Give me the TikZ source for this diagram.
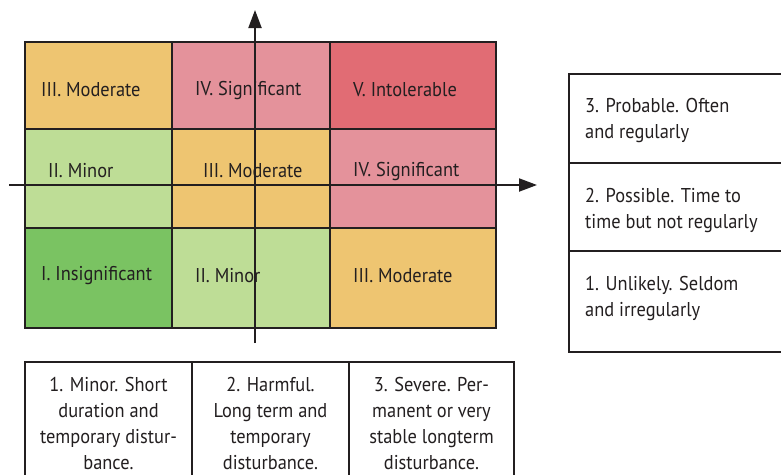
\documentclass[tikz,border=0pt]{standalone}
\usepackage{fontspec}
\setmainfont{PT Sans}[FakeStretch=0.92]
\usetikzlibrary{arrows.meta}
\definecolor{ink}{HTML}{231F20}
\definecolor{modcol}{HTML}{EEC571}
\definecolor{sigcol}{HTML}{E4929B}
\definecolor{intcol}{HTML}{E16C74}
\definecolor{mincol}{HTML}{BEDD96}
\definecolor{inscol}{HTML}{7AC362}
\begin{document}
\begin{tikzpicture}[x=1pt,y=-1pt,
  font=\fontsize{20}{26}\selectfont, text=ink,
  cell/.style={draw=ink, line width=2pt, anchor=north west, inner sep=0pt, outer sep=0pt},
  lbl/.style={anchor=west, inner sep=0pt},
  note/.style={anchor=west, inner sep=0pt, align=left},
  captext/.style={inner sep=0pt, align=center},
  axis/.style={draw=ink, line width=2pt, -{Triangle[length=18pt,width=13pt]}}]
\clip (0,0) rectangle (781,474);
\fill[white] (0,0) rectangle (781,474);

% risk matrix cells (columns: consequence, rows: probability)
\node[cell, fill=modcol, minimum width=147pt, minimum height=87pt] (c13) at (25,42) {};
\node[cell, fill=sigcol, minimum width=158pt, minimum height=87pt] (c23) at (172,42) {};
\node[cell, fill=intcol, minimum width=166pt, minimum height=87pt] (c33) at (330,42) {};
\node[cell, fill=mincol, minimum width=147pt, minimum height=99pt] (c12) at (25,129) {};
\node[cell, fill=modcol, minimum width=158pt, minimum height=99pt] (c22) at (172,129) {};
\node[cell, fill=sigcol, minimum width=166pt, minimum height=99pt] (c32) at (330,129) {};
\node[cell, fill=inscol, minimum width=147pt, minimum height=100pt] (c11) at (25,228) {};
\node[cell, fill=mincol, minimum width=158pt, minimum height=100pt] (c21) at (172,228) {};
\node[cell, fill=modcol, minimum width=166pt, minimum height=100pt] (c31) at (330,228) {};

% cell labels
\node[lbl] (t13) at (41,90) {III. Moderate};
\node[lbl] (t23) at (195,90) {IV. Significant};
\node[lbl] (t33) at (353,90) {V. Intolerable};
\node[lbl] (t12) at (48,171) {II. Minor};
\node[lbl] (t22) at (203,171) {III. Moderate};
\node[lbl] (t32) at (353,171) {IV. Significant};
\node[lbl] (t11) at (41,276) {I. Insignificant};
\node[lbl] (t21) at (195,276) {II. Minor};
\node[lbl] (t31) at (353,276) {III. Moderate};

% axes
\coordinate (ybot) at (255,343);
\coordinate (ytop) at (255,10);
\coordinate (xleft) at (9,185);
\coordinate (xright) at (537,185);
\draw[axis] (ybot) -- (ytop);
\draw[axis] (xleft) -- (xright);

% probability scale
\node[cell, minimum width=230pt, minimum height=89pt] (p3) at (569,74) {};
\node[cell, minimum width=230pt, minimum height=88pt] (p2) at (569,163) {};
\node[cell, minimum width=230pt, minimum height=101pt] (p1) at (569,251) {};
\node[note] (n3) at (585,120) {3. Probable. Often\\and regularly};
\node[note] (n2) at (585,210) {2. Possible. Time to\\time but not regularly};
\node[note] (n1) at (585,298) {1. Unlikely. Seldom\\and irregularly};

% consequence scale
\node[cell, minimum width=167pt, minimum height=130pt] (k1) at (25,362) {};
\node[cell, minimum width=157pt, minimum height=130pt] (k2) at (192,362) {};
\node[cell, minimum width=165pt, minimum height=130pt] (k3) at (349,362) {};
\node[captext] (m1) at (108.5,423) {1. Minor. Short\\duration and\\temporary distur-\\bance.};
\node[captext] (m2) at (270.5,423) {2. Harmful.\\Long term and\\temporary\\disturbance.};
\node[captext] (m3) at (431.5,423) {3. Severe. Per-\\manent or very\\stable longterm\\disturbance.};
\end{tikzpicture}
\end{document}
